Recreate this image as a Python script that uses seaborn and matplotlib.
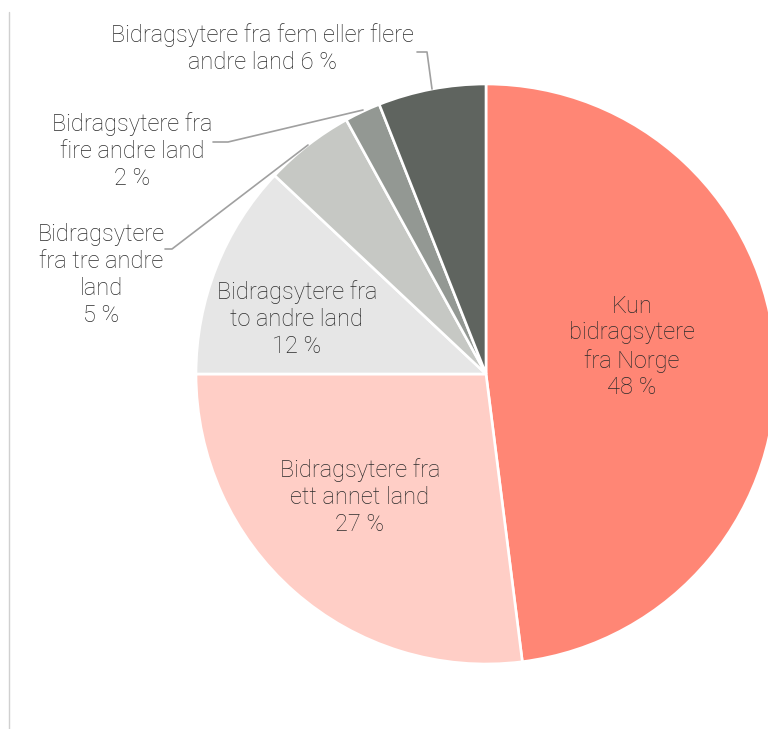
import matplotlib
matplotlib.use("Agg")
import matplotlib.pyplot as plt
import seaborn as sns

sns.set_theme(style="white")
plt.rcParams["font.family"] = ["Roboto", "DejaVu Sans"]

categories = [
    "Kun\nbidragsytere\nfra Norge",
    "Bidragsytere fra\nett annet land",
    "Bidragsytere fra\nto andre land",
    "Bidragsytere\nfra tre andre\nland",
    "Bidragsytere fra\nfire andre land",
    "Bidragsytere fra fem eller flere\nandre land",
]
shares = [48, 27, 12, 5, 2, 6]
colors = ["#FF8675", "#FFCEC6", "#E6E6E6", "#C6C8C4", "#939893", "#5F645F"]

W, H = 768, 729
fig = plt.figure(figsize=(W / 100, H / 100), dpi=100)
ax = fig.add_axes([0, 0, 1, 1])

cx, cy, r = 486, H - 374, 290
ax.pie(
    shares, colors=colors, startangle=90, counterclock=False,
    center=(cx, cy), radius=r, frame=True,
    wedgeprops=dict(edgecolor="white", linewidth=1.9),
)
ax.set_xlim(0, W)
ax.set_ylim(0, H)
ax.set_aspect("equal")
ax.axis("off")

txt = dict(fontsize=17, fontweight="light", color="#2B2B2B",
           ha="center", va="center", linespacing=1.22)

def label(i, x, y, sep="\n"):
    ax.text(x, H - y, f"{categories[i]}{sep}{shares[i]} %", **txt)

# labels inside the large slices
label(0, 632, 347)
label(1, 360, 497)
label(2, 297, 319)
# labels outside the small slices
label(3, 101, 275)
label(4, 132, 151)
label(5, 262, 49, sep=" ")

# leader lines from outside labels to slice arcs
lc = dict(color="#A0A0A0", linewidth=1.2)
ax.plot([165, 172, 308], [H - 249, H - 249, H - 145], **lc)
ax.plot([213, 228, 363], [H - 142, H - 142, H - 110], **lc)
ax.plot([417, 427, 432], [H - 52, H - 52, H - 89], **lc)

# thin border line at the left edge
ax.plot([9, 9], [H - 12, 0], color="#D0D0D0", linewidth=1.0)

fig.savefig("out.png", dpi=100)
